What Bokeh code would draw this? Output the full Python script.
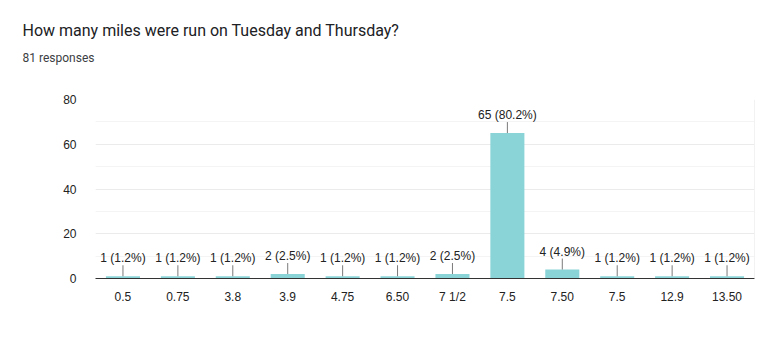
import math
from bokeh.plotting import figure
from bokeh.models import (ColumnDataSource, FixedTicker, Range1d, Span, Title)
from bokeh.core.properties import value
from bokeh.embed import file_html
from bokeh.resources import INLINE

# ---- data ----
categories = ["0.5", "0.75", "3.8", "3.9", "4.75", "6.50", "7 1/2", "7.5", "7.50", "7.5", "12.9", "13.50"]
counts = [1, 1, 1, 2, 1, 1, 2, 65, 4, 1, 1, 1]
total_responses = 81
y_ticks = [0, 20, 40, 60, 80]
y_minor = [10, 30, 50, 70]

title_text = "How many miles were run on Tuesday and Thursday?"
subtitle_text = f"{total_responses} responses"

idx = list(range(len(categories)))
labels = [f"{c} ({c / total_responses * 100:.1f}%)" for c in counts]
src = ColumnDataSource(dict(x=idx, top=counts, label=labels))

BAR = "#8ad4d8"
TXT = "#222222"

p = figure(width=763, height=352, output_backend="svg", toolbar_location=None,
           x_range=Range1d(-0.5, len(categories) - 0.5), y_range=Range1d(0, 80),
           min_border_left=95, min_border_right=9, min_border_bottom=74,
           min_border_top=99, title=None)
p.outline_line_color = None
p.background_fill_color = "white"
p.border_fill_color = "white"

# spacer, subtitle and title stacked above the frame
spacer = Title(text=" ", align="left", standoff=21, text_font="Roboto",
               text_font_size="10px")
sub = Title(text=subtitle_text, align="left", offset=-73, standoff=2,
            text_font="Roboto", text_font_size="12px",
            text_font_style="normal", text_color="#3c4043")
main = Title(text=title_text, align="left", offset=-73, standoff=15,
             text_font="Roboto", text_font_size="16px",
             text_font_style="normal", text_color="#202124")
p.add_layout(spacer, "above")
p.add_layout(sub, "above")
p.add_layout(main, "above")

# grid
p.xgrid.visible = False
p.ygrid.ticker = FixedTicker(ticks=y_ticks, minor_ticks=y_minor)
p.ygrid.grid_line_color = "#ebebeb"
p.ygrid.minor_grid_line_color = "#f4f4f4"
p.add_layout(Span(location=len(categories) - 0.5, dimension="height",
                  line_color="#e6e6e6", line_width=1))

# bars
p.vbar(x="x", top="top", width=0.62, source=src, fill_color=BAR, line_color=None)

# leader lines and labels
p.ray(x="x", y="top", length=11, angle=math.pi / 2, length_units="screen",
      source=src, line_color="#7a7a7a", line_width=1)
p.text(x="x", y="top", text="label", source=src, y_offset=-18,
       text_align="center", text_baseline="middle",
       text_font=value("Liberation Sans"), text_font_size="12px", text_color=TXT)

# axes
p.yaxis.ticker = FixedTicker(ticks=y_ticks)
p.yaxis.axis_line_color = None
p.yaxis.major_tick_line_color = None
p.yaxis.minor_tick_line_color = None
p.yaxis.major_label_standoff = 13
p.yaxis.major_label_text_font = "Liberation Sans"
p.yaxis.major_label_text_font_size = "12px"
p.yaxis.major_label_text_color = TXT

p.xaxis.ticker = FixedTicker(ticks=idx)
p.xaxis.major_label_overrides = {i: c for i, c in zip(idx, categories)}
p.xaxis.axis_line_color = "#333333"
p.xaxis.axis_line_width = 1
p.xaxis.major_tick_line_color = None
p.xaxis.minor_tick_line_color = None
p.xaxis.major_label_standoff = 5
p.xaxis.major_label_text_font = "Liberation Sans"
p.xaxis.major_label_text_font_size = "12px"
p.xaxis.major_label_text_color = TXT

open("out.html", "w").write(file_html(p, INLINE))
